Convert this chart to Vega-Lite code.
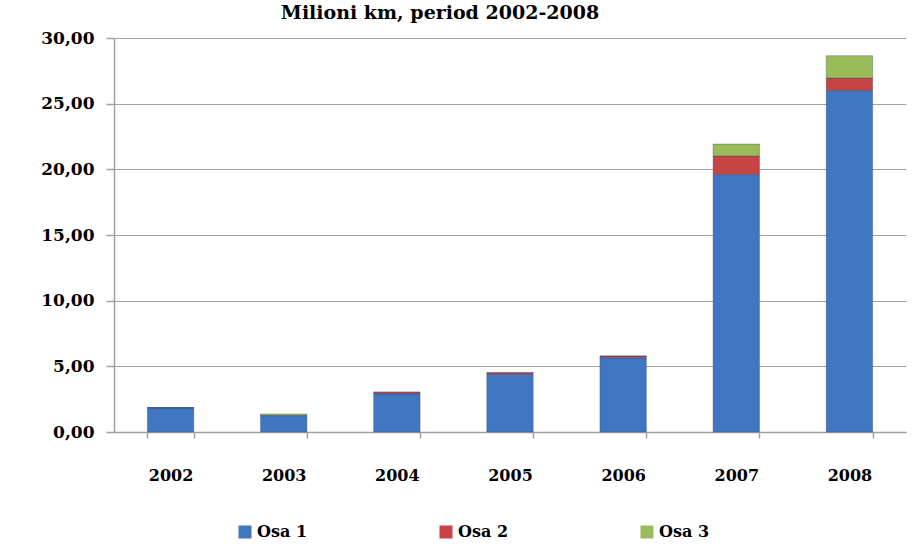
{
  "$schema": "https://vega.github.io/schema/vega-lite/v6.json",
  "width": 792,
  "height": 394,
  "autosize": {"type": "none"},
  "padding": {"left": 114, "top": 38, "right": 13, "bottom": 125},
  "title": {
    "text": "Milioni km, period 2002-2008",
    "font": "DejaVu Serif",
    "fontSize": 19,
    "fontWeight": "bold",
    "color": "black",
    "anchor": "middle",
    "baseline": "alphabetic",
    "offset": 4,
    "dy": 13,
    "dx": -70
  },
  "config": {
    "locale": {"number": {"decimal": ",", "thousands": ".", "grouping": [3], "currency": ["", "€"]}},
    "view": {"stroke": null},
    "axis": {
      "labelFont": "DejaVu Serif",
      "labelFontWeight": "bold",
      "labelColor": "black",
      "domainColor": "#a0a0a0",
      "tickColor": "#a0a0a0",
      "gridColor": "#a0a0a0",
      "gridOpacity": 1,
      "domainWidth": 1.5,
      "tickWidth": 1.5
    }
  },
  "data": {
    "values": [
      {"year": "2002", "series": "Osa 1", "value": 1.85},
      {"year": "2002", "series": "Osa 2", "value": 0.0},
      {"year": "2002", "series": "Osa 3", "value": 0.0},
      {"year": "2003", "series": "Osa 1", "value": 1.25},
      {"year": "2003", "series": "Osa 2", "value": 0.0},
      {"year": "2003", "series": "Osa 3", "value": 0.12},
      {"year": "2004", "series": "Osa 1", "value": 2.9},
      {"year": "2004", "series": "Osa 2", "value": 0.13},
      {"year": "2004", "series": "Osa 3", "value": 0.0},
      {"year": "2005", "series": "Osa 1", "value": 4.38},
      {"year": "2005", "series": "Osa 2", "value": 0.13},
      {"year": "2005", "series": "Osa 3", "value": 0.0},
      {"year": "2006", "series": "Osa 1", "value": 5.65},
      {"year": "2006", "series": "Osa 2", "value": 0.13},
      {"year": "2006", "series": "Osa 3", "value": 0.0},
      {"year": "2007", "series": "Osa 1", "value": 19.6},
      {"year": "2007", "series": "Osa 2", "value": 1.42},
      {"year": "2007", "series": "Osa 3", "value": 0.9},
      {"year": "2008", "series": "Osa 1", "value": 26.0},
      {"year": "2008", "series": "Osa 2", "value": 0.95},
      {"year": "2008", "series": "Osa 3", "value": 1.7}
    ]
  },
  "mark": {"type": "bar", "stroke": "#26456e", "strokeOpacity": 0.35, "strokeWidth": 1},
  "encoding": {
    "x": {
      "field": "year",
      "type": "ordinal",
      "scale": {"paddingInner": 0.59, "paddingOuter": 0.295},
      "axis": {
        "title": null,
        "labelAngle": 0,
        "labelFontSize": 16,
        "tickBand": "extent",
        "tickSize": 6,
        "labelPadding": 29,
        "grid": false
      }
    },
    "y": {
      "field": "value",
      "type": "quantitative",
      "stack": "zero",
      "scale": {"domain": [0, 30], "nice": false},
      "axis": {
        "title": null,
        "values": [0, 5, 10, 15, 20, 25, 30],
        "format": ".2f",
        "labelFontSize": 17,
        "tickSize": 8,
        "labelPadding": 12,
        "grid": true
      }
    },
    "color": {
      "field": "series",
      "type": "nominal",
      "scale": {"domain": ["Osa 1", "Osa 2", "Osa 3"], "range": ["#4076c2", "#c74444", "#9bbb59"]},
      "legend": {
        "title": null,
        "orient": "none",
        "direction": "horizontal",
        "legendX": 123,
        "legendY": 486,
        "symbolType": "square",
        "symbolSize": 169,
        "symbolStrokeWidth": 0,
        "labelFont": "DejaVu Serif",
        "labelFontWeight": "bold",
        "labelFontSize": 16,
        "labelColor": "black",
        "labelOffset": 4,
        "columnPadding": 130
      }
    },
    "order": {"field": "series", "sort": "ascending"}
  }
}
